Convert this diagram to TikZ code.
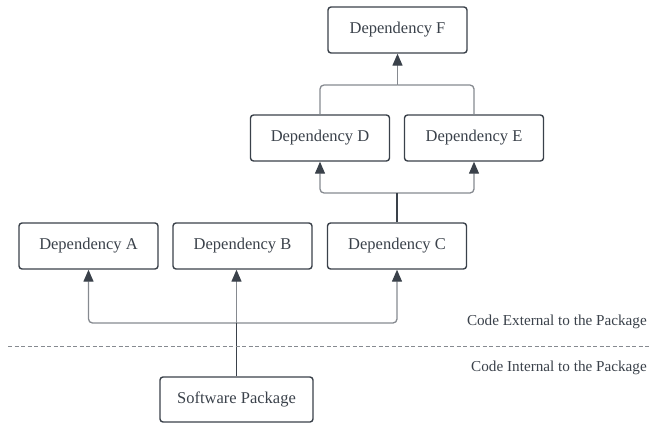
\documentclass[tikz,border=0pt]{standalone}
\usepackage{fontspec}
\setmainfont{Liberation Serif}
\usetikzlibrary{arrows.meta}
\definecolor{ink}{HTML}{3A414A}
\definecolor{wire}{HTML}{868A90}
\begin{document}
\begin{tikzpicture}[x=1pt,y=-1pt,
  box/.style={draw=ink,line width=1.4pt,rounded corners=3pt,minimum width=139pt,minimum height=46pt,
    text=ink,font=\fontsize{16.5}{19}\selectfont,inner sep=0pt},
  wireline/.style={draw=wire,line width=1.3pt,rounded corners=4pt},
  link/.style={wireline,-{Triangle[length=12pt,width=10pt,color=ink]}},
  stemline/.style={draw=ink,line width=1.6pt},
  note/.style={text=ink,font=\fontsize{15.2}{18}\selectfont,inner sep=0pt,anchor=east},
  divider/.style={draw=wire,line width=1pt,dash pattern=on 4pt off 2.5pt}]
\useasboundingbox (0,0) rectangle (650,423);

\node[box] (F) at (397.5,30) {Dependency F};
\node[box] (D) at (320,138) {Dependency D};
\node[box] (E) at (474,138) {Dependency E};
\node[box] (A) at (88.5,246) {Dependency A};
\node[box] (B) at (242.5,246) {Dependency B};
\node[box] (C) at (397,246) {Dependency C};
\node[box,minimum width=153pt,minimum height=45pt] (S) at (236.5,399.5) {Software Package};

\coordinate (j1) at (236.5,323);
\coordinate (j2) at (397,193);
\coordinate (j3) at (397.5,85);

% lower tree
\draw[link] (j1) -| (A.south);
\draw[link] (j1) -| (C.south);
\draw[link] (j1) -- (j1 |- B.south);
\draw[stemline] (S.north) -- (j1);

% middle tree
\draw[link] (j2) -| (D.south);
\draw[link] (j2) -| (E.south);
\draw[stemline] (C.north) -- (j2);

% upper tree
\draw[wireline] (D.north) |- (j3);
\draw[wireline] (E.north) |- (j3);
\draw[link] (j3) -- (F.south);

% divider
\coordinate (dl) at (8,346);
\coordinate (dr) at (650,346);
\draw[divider] (dl) -- (dr);
\node[note] (ext) at (647,322) {Code External to the Package};
\node[note] (int) at (647,368) {Code Internal to the Package};
\end{tikzpicture}
\end{document}
